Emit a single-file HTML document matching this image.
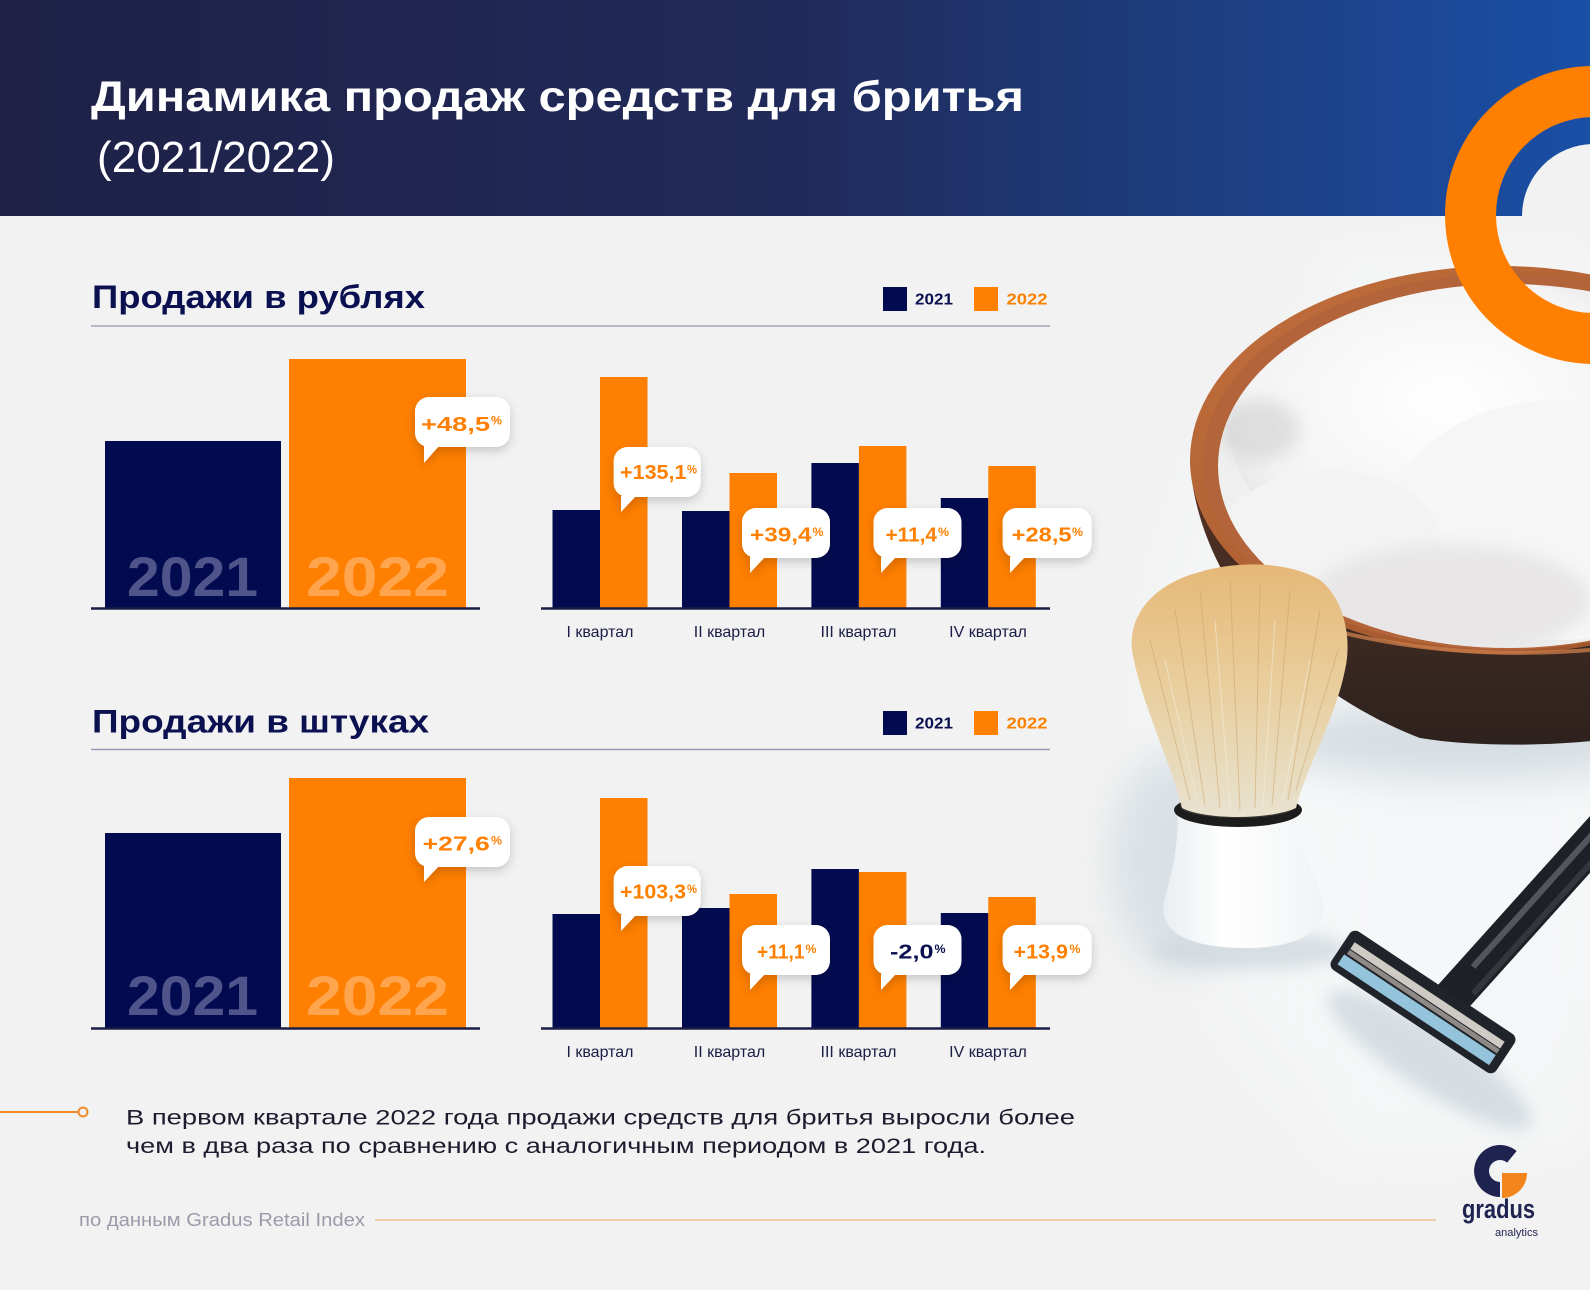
<!DOCTYPE html>
<html><head><meta charset="utf-8"><style>
html,body{margin:0;padding:0;background:#f2f2f2;}
svg{display:block;}
text{font-family:"Liberation Sans",sans-serif;}
</style></head><body>
<svg width="1590" height="1290" viewBox="0 0 1590 1290" xmlns="http://www.w3.org/2000/svg">
<defs>
<linearGradient id="hdr" x1="0" y1="0" x2="1" y2="0">
<stop offset="0" stop-color="#1f2146"/>
<stop offset="0.5" stop-color="#202a5a"/>
<stop offset="0.7" stop-color="#1e3a78"/>
<stop offset="1" stop-color="#1a4fa6"/>
</linearGradient>
<radialGradient id="photoBg" cx="0.5" cy="0.5" r="0.5">
<stop offset="0" stop-color="#f7f9fa" stop-opacity="1"/>
<stop offset="0.7" stop-color="#f5f7f8" stop-opacity="0.8"/>
<stop offset="1" stop-color="#f2f2f2" stop-opacity="0"/>
</radialGradient>
<linearGradient id="bowlBody" x1="0" y1="0" x2="0" y2="1">
<stop offset="0" stop-color="#5a3322"/>
<stop offset="0.5" stop-color="#3f2a22"/>
<stop offset="1" stop-color="#2e221e"/>
</linearGradient>
<linearGradient id="rimG" x1="0" y1="0" x2="1" y2="1">
<stop offset="0" stop-color="#c26f3c"/>
<stop offset="1" stop-color="#9a5028"/>
</linearGradient>
<radialGradient id="foamG" cx="0.45" cy="0.4" r="0.6">
<stop offset="0" stop-color="#ffffff"/>
<stop offset="0.7" stop-color="#f3f3f3"/>
<stop offset="1" stop-color="#dedcdc"/>
</radialGradient>
<linearGradient id="bristG" x1="0" y1="0" x2="0" y2="1">
<stop offset="0" stop-color="#e6b877"/>
<stop offset="0.5" stop-color="#e9cf9f"/>
<stop offset="1" stop-color="#e8e2cf"/>
</linearGradient>
<linearGradient id="handleG" x1="0" y1="0" x2="1" y2="0">
<stop offset="0" stop-color="#e9eef1"/>
<stop offset="0.4" stop-color="#ffffff"/>
<stop offset="1" stop-color="#f0f3f5"/>
</linearGradient>
<filter id="blur20" x="-50%" y="-50%" width="200%" height="200%"><feGaussianBlur stdDeviation="20"/></filter>
<filter id="blur8" x="-50%" y="-50%" width="200%" height="200%"><feGaussianBlur stdDeviation="8"/></filter>
<filter id="sh" x="-30%" y="-30%" width="160%" height="170%">
<feDropShadow dx="0" dy="4" stdDeviation="5" flood-color="#000" flood-opacity="0.18"/>
</filter>
<clipPath id="foamClip"><ellipse cx="1508" cy="466" rx="290" ry="182"/></clipPath>
</defs>

<rect width="1590" height="1290" fill="#f2f2f2"/>

<ellipse cx="1420" cy="720" rx="330" ry="520" fill="url(#photoBg)"/>
<rect x="1330" y="250" width="260" height="900" fill="#f5f7f8" opacity="0.7" filter="url(#blur20)"/>

<ellipse cx="1470" cy="740" rx="200" ry="40" fill="#c9d3d9" opacity="0.7" filter="url(#blur20)"/>
<path d="M1190 460 C1195 560 1270 680 1420 738 C1480 748 1560 745 1600 740 L1600 460 Z" fill="url(#bowlBody)"/>
<ellipse cx="1500" cy="460" rx="310" ry="194" fill="url(#rimG)"/>
<ellipse cx="1503" cy="462" rx="300" ry="188" fill="#b4643a"/>
<ellipse cx="1510" cy="466" rx="290" ry="180" fill="#8a4a2c"/>
<g clip-path="url(#foamClip)">
<rect x="1200" y="270" width="400" height="400" fill="#efefef"/>
<ellipse cx="1470" cy="430" rx="240" ry="150" fill="url(#foamG)"/>
<ellipse cx="1560" cy="520" rx="170" ry="120" fill="#f6f6f6"/>
<ellipse cx="1330" cy="540" rx="110" ry="70" fill="#f3f3f3"/>
<ellipse cx="1450" cy="600" rx="140" ry="55" fill="#e8e6e6" filter="url(#blur8)"/>
<ellipse cx="1260" cy="430" rx="40" ry="30" fill="#8a8a8a" opacity="0.2" filter="url(#blur8)"/>
</g>
<path d="M1240 600 Q1400 665 1590 650" stroke="#c87a48" stroke-width="4" fill="none" opacity="0.8"/>

<rect x="0" y="0" width="1590" height="216" fill="url(#hdr)"/>
<path d="M1522 216 A72 72 0 0 1 1666 216 Z" fill="#f2f2f2"/>
<circle cx="1594" cy="215" r="123.5" fill="none" stroke="#ff7f00" stroke-width="51"/>

<text x="91" y="111" font-size="43" font-weight="bold" fill="#ffffff" textLength="933" lengthAdjust="spacingAndGlyphs">Динамика продаж средств для бритья</text>
<text x="97" y="172" font-size="44" fill="#ffffff" textLength="238" lengthAdjust="spacingAndGlyphs">(2021/2022)</text>

<ellipse cx="1180" cy="860" rx="70" ry="110" fill="#d4dde3" opacity="0.8" filter="url(#blur20)"/>
<ellipse cx="1250" cy="950" rx="100" ry="20" fill="#d0d9df" opacity="0.8" filter="url(#blur8)"/>
<path d="M1178 812 L1298 812 C1300 850 1312 870 1322 895 C1332 930 1300 948 1245 948 C1190 948 1155 932 1165 898 C1172 872 1178 850 1178 812 Z" fill="url(#handleG)"/>
<ellipse cx="1238" cy="810" rx="64" ry="17" fill="#1c1c1c"/>
<ellipse cx="1238" cy="806" rx="58" ry="12" fill="#3a3530"/>
<path d="M1182 808 C1170 760 1140 700 1132 650 C1128 610 1160 582 1200 572 C1240 560 1290 562 1320 580 C1345 600 1352 640 1345 670 C1335 720 1305 770 1296 808 C1270 820 1205 820 1182 808 Z" fill="url(#bristG)"/>
<g stroke="#c9a066" stroke-width="1" opacity="0.5" fill="none">
<path d="M1150 640 L1190 800"/><path d="M1175 610 L1205 805"/><path d="M1200 590 L1220 808"/><path d="M1230 580 L1240 810"/>
<path d="M1260 585 L1255 808"/><path d="M1290 590 L1272 806"/><path d="M1320 610 L1288 800"/><path d="M1338 650 L1296 790"/>
</g>
<g stroke="#f4eedc" stroke-width="1" opacity="0.6" fill="none">
<path d="M1165 660 L1198 805"/><path d="M1215 620 L1230 808"/><path d="M1275 620 L1263 808"/><path d="M1310 660 L1282 805"/>
</g>

<ellipse cx="1430" cy="1060" rx="120" ry="30" fill="#cfd8de" opacity="0.8" filter="url(#blur8)" transform="rotate(33 1430 1060)"/>
<g transform="translate(1450,1000) rotate(-48)">
<rect x="0" y="-19" width="260" height="38" rx="4" fill="#1d2026"/>
<rect x="40" y="-8" width="200" height="6" fill="#6b6f75" opacity="0.7"/>
<rect x="20" y="10" width="230" height="6" fill="#33373d"/>
</g>
<g transform="translate(1423,1002) rotate(33.6)">
<rect x="-99" y="-23" width="198" height="46" rx="7" fill="#202329"/>
<rect x="-90" y="-12" width="180" height="8" fill="#cfcac4"/>
<rect x="-90" y="-3" width="180" height="5" fill="#8d8a87"/>
<rect x="-92" y="4" width="182" height="12" fill="#93c4dc"/>
</g>

<text x="92" y="308" font-size="32" font-weight="bold" fill="#0b1050" textLength="333" lengthAdjust="spacingAndGlyphs">Продажи в рублях</text>
<rect x="883" y="287" width="24" height="24" fill="#030b50"/>
<text x="915" y="304.5" font-size="16" font-weight="bold" fill="#0b1050" textLength="38" lengthAdjust="spacingAndGlyphs">2021</text>
<rect x="974" y="287" width="24" height="24" fill="#ff7f00"/>
<text x="1006.5" y="304.5" font-size="16" font-weight="bold" fill="#ff7f00" textLength="41" lengthAdjust="spacingAndGlyphs">2022</text>
<line x1="91" y1="326" x2="1050" y2="326" stroke="#b6b7c9" stroke-width="2"/>

<rect x="105" y="441" width="176" height="167" fill="#030b50"/>
<rect x="289" y="359" width="177" height="249" fill="#ff7f00"/>
<text x="127" y="596" font-size="56" font-weight="bold" fill="#4f548a" textLength="131" lengthAdjust="spacingAndGlyphs">2021</text>
<text x="306" y="596" font-size="56" font-weight="bold" fill="#ffa54e" textLength="143" lengthAdjust="spacingAndGlyphs">2022</text>
<line x1="91" y1="608.5" x2="480" y2="608.5" stroke="#1a1d45" stroke-width="2.5"/>

<g fill="#030b50">
<rect x="552.5" y="510" width="47.5" height="98"/>
<rect x="682" y="511" width="47.5" height="97"/>
<rect x="811.4" y="463" width="47.5" height="145"/>
<rect x="940.8" y="498" width="47.5" height="110"/>
</g>
<g fill="#ff7f00">
<rect x="600" y="377" width="47.5" height="231"/>
<rect x="729.5" y="473" width="47.5" height="135"/>
<rect x="858.9" y="446" width="47.5" height="162"/>
<rect x="988.3" y="466" width="47.5" height="142"/>
</g>
<line x1="541" y1="608.5" x2="1050" y2="608.5" stroke="#1a1d45" stroke-width="2.5"/>
<g font-size="16" fill="#1a1d45" text-anchor="middle">
<text x="600" y="637">I квартал</text>
<text x="729.5" y="637">II квартал</text>
<text x="858.5" y="637">III квартал</text>
<text x="988" y="637">IV квартал</text>
</g>

<g filter="url(#sh)" fill="#ffffff">
<rect x="415" y="397" width="95" height="50" rx="14"/><polygon points="424,446 439,446 424,463"/>
<rect x="613.6" y="447" width="87" height="50" rx="14"/><polygon points="621,496 636,496 621,512"/>
<rect x="742" y="508" width="88" height="50" rx="14"/><polygon points="750,557 765,557 750,573"/>
<rect x="873.5" y="508" width="88" height="50" rx="14"/><polygon points="881,557 896,557 881,573"/>
<rect x="1002.6" y="508" width="89" height="50" rx="14"/><polygon points="1010,557 1025,557 1010,573"/>
</g>
<g font-weight="bold" fill="#ff7f00">
<text x="421" y="431" font-size="20" textLength="69" lengthAdjust="spacingAndGlyphs">+48,5</text>
<text x="491" y="424.5" font-size="12" textLength="11" lengthAdjust="spacingAndGlyphs">%</text>
<text x="620" y="479" font-size="20" textLength="66.5" lengthAdjust="spacingAndGlyphs">+135,1</text>
<text x="687" y="473.5" font-size="12" textLength="10" lengthAdjust="spacingAndGlyphs">%</text>
<text x="750" y="541.5" font-size="20" textLength="61.5" lengthAdjust="spacingAndGlyphs">+39,4</text>
<text x="812.5" y="536" font-size="12" textLength="11" lengthAdjust="spacingAndGlyphs">%</text>
<text x="885.5" y="541.5" font-size="20" textLength="51.5" lengthAdjust="spacingAndGlyphs">+11,4</text>
<text x="938" y="536" font-size="12" textLength="11" lengthAdjust="spacingAndGlyphs">%</text>
<text x="1011.6" y="541.5" font-size="20" textLength="60" lengthAdjust="spacingAndGlyphs">+28,5</text>
<text x="1072" y="536" font-size="12" textLength="11" lengthAdjust="spacingAndGlyphs">%</text>
</g>

<text x="92" y="732.5" font-size="32" font-weight="bold" fill="#0b1050" textLength="337" lengthAdjust="spacingAndGlyphs">Продажи в штуках</text>
<rect x="883" y="711" width="24" height="24" fill="#030b50"/>
<text x="915" y="728.5" font-size="16" font-weight="bold" fill="#0b1050" textLength="38" lengthAdjust="spacingAndGlyphs">2021</text>
<rect x="974" y="711" width="24" height="24" fill="#ff7f00"/>
<text x="1006.5" y="728.5" font-size="16" font-weight="bold" fill="#ff7f00" textLength="41" lengthAdjust="spacingAndGlyphs">2022</text>
<line x1="91" y1="749.5" x2="1050" y2="749.5" stroke="#9a9db8" stroke-width="1.5"/>

<rect x="105" y="833" width="176" height="195" fill="#030b50"/>
<rect x="289" y="778" width="177" height="250" fill="#ff7f00"/>
<text x="127" y="1015" font-size="56" font-weight="bold" fill="#4f548a" textLength="131" lengthAdjust="spacingAndGlyphs">2021</text>
<text x="306" y="1015" font-size="56" font-weight="bold" fill="#ffa54e" textLength="143" lengthAdjust="spacingAndGlyphs">2022</text>
<line x1="91" y1="1028.5" x2="480" y2="1028.5" stroke="#1a1d45" stroke-width="2.5"/>

<g fill="#030b50">
<rect x="552.5" y="914" width="47.5" height="114"/>
<rect x="682" y="908" width="47.5" height="120"/>
<rect x="811.4" y="869" width="47.5" height="159"/>
<rect x="940.8" y="913" width="47.5" height="115"/>
</g>
<g fill="#ff7f00">
<rect x="600" y="798" width="47.5" height="230"/>
<rect x="729.5" y="894" width="47.5" height="134"/>
<rect x="858.9" y="872" width="47.5" height="156"/>
<rect x="988.3" y="897" width="47.5" height="131"/>
</g>
<line x1="541" y1="1028.5" x2="1050" y2="1028.5" stroke="#1a1d45" stroke-width="2.5"/>
<g font-size="16" fill="#1a1d45" text-anchor="middle">
<text x="600" y="1057">I квартал</text>
<text x="729.5" y="1057">II квартал</text>
<text x="858.5" y="1057">III квартал</text>
<text x="988" y="1057">IV квартал</text>
</g>

<g filter="url(#sh)" fill="#ffffff">
<rect x="415" y="817" width="95" height="50" rx="14"/><polygon points="424,866 439,866 424,882"/>
<rect x="613.6" y="866" width="87" height="50" rx="14"/><polygon points="621,915 636,915 621,931"/>
<rect x="742" y="925" width="88" height="50" rx="14"/><polygon points="750,974 765,974 750,990"/>
<rect x="873.5" y="925" width="88" height="50" rx="14"/><polygon points="881,974 896,974 881,990"/>
<rect x="1002.6" y="925" width="89" height="50" rx="14"/><polygon points="1010,974 1025,974 1010,990"/>
</g>
<g font-weight="bold" fill="#ff7f00">
<text x="422.7" y="850.7" font-size="20" textLength="67" lengthAdjust="spacingAndGlyphs">+27,6</text>
<text x="491" y="844.5" font-size="12" textLength="11" lengthAdjust="spacingAndGlyphs">%</text>
<text x="620" y="898.5" font-size="20" textLength="66" lengthAdjust="spacingAndGlyphs">+103,3</text>
<text x="687" y="893" font-size="12" textLength="10" lengthAdjust="spacingAndGlyphs">%</text>
<text x="757" y="958.5" font-size="20" textLength="47.5" lengthAdjust="spacingAndGlyphs">+11,1</text>
<text x="805.5" y="953" font-size="12" textLength="11" lengthAdjust="spacingAndGlyphs">%</text>
<text x="1013.5" y="958.5" font-size="20" textLength="54.5" lengthAdjust="spacingAndGlyphs">+13,9</text>
<text x="1069.5" y="953" font-size="12" textLength="11" lengthAdjust="spacingAndGlyphs">%</text>
</g>
<g font-weight="bold" fill="#0b1050">
<text x="890" y="958.5" font-size="20" textLength="43.5" lengthAdjust="spacingAndGlyphs">-2,0</text>
<text x="934.5" y="953" font-size="12" textLength="11" lengthAdjust="spacingAndGlyphs">%</text>
</g>

<line x1="0" y1="1112" x2="78" y2="1112" stroke="#f08a2a" stroke-width="2"/>
<circle cx="83" cy="1112" r="4.5" fill="#f2f2f2" stroke="#f08a2a" stroke-width="2"/>
<text x="126" y="1124.5" font-size="21.5" fill="#1c1c2e" textLength="949" lengthAdjust="spacingAndGlyphs">В первом квартале 2022 года продажи средств для бритья выросли более</text>
<text x="126" y="1153" font-size="21.5" fill="#1c1c2e" textLength="860" lengthAdjust="spacingAndGlyphs">чем в два раза по сравнению с аналогичным периодом в 2021 года.</text>

<text x="79" y="1226" font-size="18" fill="#9a9aaa" textLength="286" lengthAdjust="spacingAndGlyphs">по данным Gradus Retail Index</text>
<line x1="375" y1="1220" x2="1436" y2="1220" stroke="#f2c08e" stroke-width="1.5"/>

<path d="M1516.7 1151 A26 26 0 1 0 1500 1197 L1500 1182 A11 11 0 1 1 1507.1 1162.6 Z" fill="#1f2350"/>
<path d="M1502 1173 L1527 1173 A25 25 0 0 1 1502 1198 Z" fill="#f2851c"/>
<text x="1462" y="1218" font-size="27" font-weight="bold" fill="#1f2350" textLength="73" lengthAdjust="spacingAndGlyphs">gradus</text>
<text x="1495" y="1236" font-size="11" fill="#1f2350" textLength="43" lengthAdjust="spacingAndGlyphs">analytics</text>
</svg>
</body></html>
